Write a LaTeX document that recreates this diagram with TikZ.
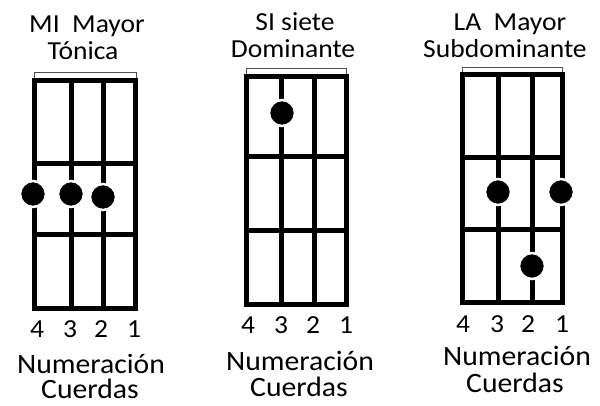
\documentclass[tikz,border=0pt]{standalone}
\usepackage{fontspec}
\setmainfont[FakeStretch=1.06]{Carlito}
\begin{document}
\begin{tikzpicture}[x=1pt,y=-1pt,
  lbl/.style={anchor=base,inner sep=0pt,font=\fontsize{28}{28}\selectfont},
  ttl/.style={anchor=base,inner sep=0pt,font=\fontsize{26}{26}\selectfont},
  num/.style={anchor=base,inner sep=0pt,font=\fontsize{26}{26}\selectfont},
  grid/.style={line width=5pt,line cap=rect,line join=miter},
  nut/.style={line width=1pt,draw=black!70,fill=white},
  dot/.style={circle,fill=black,draw=white,line width=2.5pt,minimum size=26pt,inner sep=0pt}]
\useasboundingbox (0,0) rectangle (600,405);

% ---------- Chord 1: MI Mayor ----------
\draw[nut] (34.5,72.5) rectangle (136,80);
\draw[grid] (34.5,80) rectangle (135,308);
\draw[grid] (71,80) -- (71,308) (103,80) -- (103,308);
\draw[grid] (34.5,163) -- (135,163) (34.5,234) -- (135,234);
\node[dot] (d11) at (33,194) {};
\node[dot] (d12) at (71,194) {};
\node[dot] (d13) at (103,197) {};
\node[ttl] (t1a) at (87,32) {MI\ \ Mayor};
\node[ttl] (t1b) at (83,59) {Tónica};
\node[num] (n14) at (37,337) {4};
\node[num] (n13) at (70,337) {3};
\node[num] (n12) at (101,337) {2};
\node[num] (n11) at (134,337) {1};
\node[lbl] (b1a) at (91,373) {Numeración};
\node[lbl] (b1b) at (90,398.5) {Cuerdas};

% ---------- Chord 2: SI siete ----------
\draw[nut] (246,68.5) rectangle (346,76);
\draw[grid] (246,76) rectangle (346,304);
\draw[grid] (281,76) -- (281,304) (314,76) -- (314,304);
\draw[grid] (246,156) -- (346,156) (246,230) -- (346,230);
\node[dot] (d21) at (282,113) {};
\node[ttl] (t2a) at (295,30) {SI siete};
\node[ttl] (t2b) at (293,57) {Dominante};
\node[num] (n24) at (248,333) {4};
\node[num] (n23) at (281,333) {3};
\node[num] (n22) at (313,333) {2};
\node[num] (n21) at (346,333) {1};
\node[lbl] (b2a) at (300,370) {Numeración};
\node[lbl] (b2b) at (299,396) {Cuerdas};

% ---------- Chord 3: LA Mayor ----------
\draw[nut] (462,67) rectangle (562.5,74);
\draw[grid] (462,74) rectangle (562,302);
\draw[grid] (498,74) -- (498,302) (532,74) -- (532,302);
\draw[grid] (462,157) -- (562,157) (462,229) -- (562,229);
\node[dot] (d31) at (498,192) {};
\node[dot] (d32) at (561,192) {};
\node[dot] (d33) at (532,266) {};
\node[ttl] (t3a) at (510,30) {LA\ \ Mayor};
\node[ttl] (t3b) at (505,57) {Subdominante};
\node[num] (n34) at (463,332) {4};
\node[num] (n33) at (497,332) {3};
\node[num] (n32) at (528,332) {2};
\node[num] (n31) at (562,332) {1};
\node[lbl] (b3a) at (517,365) {Numeración};
\node[lbl] (b3b) at (515,392) {Cuerdas};
\end{tikzpicture}
\end{document}
